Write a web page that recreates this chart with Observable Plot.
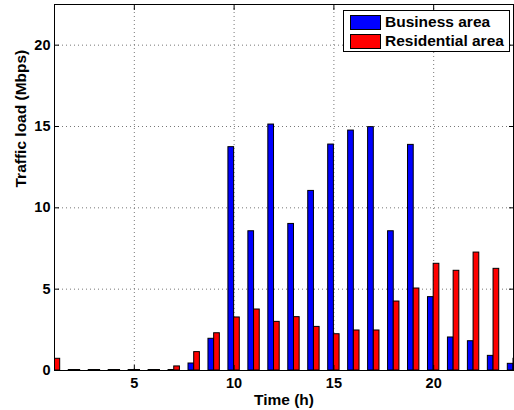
<!DOCTYPE html>
<html>
<head>
<meta charset="utf-8">
<script src="https://cdn.jsdelivr.net/npm/d3@7"></script>
<script src="https://cdn.jsdelivr.net/npm/@observablehq/plot@0.6"></script>
<style>
  html, body { margin: 0; padding: 0; background: #fff; }
  #wrap { position: relative; width: 514px; height: 410px; font-family: "Liberation Sans", Arial, sans-serif; }
  #legend { position: absolute; left: 343px; top: 10px; width: 167px; height: 42px; border: 1px solid #000; background: #fff; box-sizing: border-box; }
  .item { position: absolute; left: 6px; height: 16px; display: flex; align-items: center; font-weight: bold; font-size: 15.5px; }
  .sw { width: 31px; height: 15px; border: 1px solid #000; box-sizing: border-box; margin-right: 4px; }
</style>
</head>
<body>
<div id="wrap">
  <div id="chart"></div>
  <div id="legend"></div>
</div>
<script>
const hours = [1,2,3,4,5,6,7,8,9,10,11,12,13,14,15,16,17,18,19,20,21,22,23,24];
const business = [0.05,0.03,0.03,0.03,0.03,0.03,0.03,0.43,1.95,13.73,8.56,15.12,9.01,11.04,13.89,14.75,14.96,8.56,13.87,4.51,2.03,1.80,0.90,0.41];
const residential = [0.72,0.03,0.03,0.03,0.03,0.03,0.25,1.13,2.29,3.26,3.75,2.99,3.28,2.68,2.23,2.46,2.46,4.24,5.04,6.56,6.13,7.25,6.25,0.72];
const seriesNames = ["Business area", "Residential area"];
const seriesColors = ["#0000ff", "#ff0000"];
const xTicks = [5, 10, 15, 20];
const yTicks = [0, 5, 10, 15, 20];

const bw = 0.285;
const rows = hours.map((h, i) => ({hour: h, business: business[i], residential: residential[i]}));

const chart = Plot.plot({
  width: 514,
  height: 410,
  marginLeft: 54,
  marginRight: 1,
  marginTop: 4,
  marginBottom: 40,
  style: {fontFamily: "Liberation Sans, Arial, sans-serif", fontWeight: "bold", fontSize: "14.5px", color: "#000", background: "#fff"},
  x: {domain: [1, 24]},
  y: {domain: [0, 22.5]},
  marks: [
    Plot.gridX(xTicks, {stroke: "#777", strokeOpacity: 1, strokeDasharray: "1,3"}),
    Plot.gridY(yTicks.filter(d => d > 0), {stroke: "#777", strokeOpacity: 1, strokeDasharray: "1,3"}),
    Plot.rectY(rows, {x1: d => d.hour - bw, x2: d => d.hour, y: "business", fill: seriesColors[0], stroke: "#000", strokeWidth: 1, clip: true}),
    Plot.rectY(rows, {x1: d => d.hour, x2: d => d.hour + bw, y: "residential", fill: seriesColors[1], stroke: "#000", strokeWidth: 1, clip: true}),
    Plot.axisX(xTicks, {anchor: "bottom", tickSize: -5, tickPadding: 12, fontSize: 14.5, fontWeight: "bold", label: null}),
    Plot.axisX(xTicks, {anchor: "top", tickSize: -5, tickFormat: () => "", label: null}),
    Plot.axisY(yTicks, {anchor: "left", tickSize: -5, tickPadding: 9, fontSize: 14.5, fontWeight: "bold", label: null}),
    Plot.axisY(yTicks, {anchor: "right", tickSize: -5, tickFormat: () => "", label: null}),
    Plot.frame({stroke: "#000", strokeWidth: 1}),
    Plot.text(["Time (h)"], {frameAnchor: "bottom", dy: 34, fontSize: 15.5, fontWeight: "bold"}),
    Plot.text(["Traffic load (Mbps)"], {frameAnchor: "left", dx: -33, rotate: -90, fontSize: 15.5, fontWeight: "bold"})
  ]
});
document.getElementById("chart").appendChild(chart);

const legend = document.getElementById("legend");
seriesNames.forEach((name, i) => {
  const item = document.createElement("div");
  item.className = "item";
  item.style.top = (3 + i * 19) + "px";
  const sw = document.createElement("div");
  sw.className = "sw";
  sw.style.background = seriesColors[i];
  const label = document.createElement("span");
  label.textContent = name;
  item.appendChild(sw);
  item.appendChild(label);
  legend.appendChild(item);
});
</script>
</body>
</html>
